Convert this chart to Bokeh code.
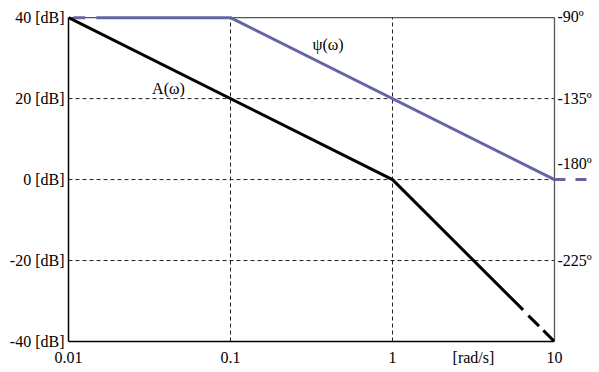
from bokeh.plotting import figure
from bokeh.models import Range1d, FixedTicker
from bokeh.core.properties import value
from bokeh.embed import file_html
from bokeh.resources import INLINE

# Amplitude A(w) [dB]
amp_w = [0.01, 1.0, 6.4]
amp_db = [40, 0, -32.2]
amp_dash_w = [6.9, 10.0]
amp_dash_db = [-33.6, -40]

# Phase psi(w) [deg]
phase_w = [0.0149, 0.1, 10.0]
phase_deg = [-90, -90, -180]
phase_dash_left_w = [0.0107, 0.0149]
phase_dash_left_deg = [-90, -90]
phase_dash_right_w = [10.0, 16.9]
phase_dash_right_deg = [-180, -180]

x_ticks = [0.01, 0.1, 1, 3.1623, 10]
x_labels = ["0.01", "0.1", "1", "[rad/s]", "10"]
db_ticks = [40, 20, 0, -20, -40]
db_labels = ["40 [dB]", "20 [dB]", "0 [dB]", "-20 [dB]", "-40 [dB]"]
deg_label_pos = [-89.5, -135, -171, -225]
deg_labels = ["-90º", "-135º", "-180º", "-225º"]
grid_w = [0.1, 1]
grid_db = [20, 0, -20]

FONT = "Liberation Serif"
PURPLE = "#6565a5"
W_MIN, W_MAX = 0.01, 10.0
DB_MIN, DB_MAX = -40, 40
DB_TOP = 43.0  # headroom so the top labels are not clipped

p = figure(width=598, height=372, x_axis_type="log",
           x_range=Range1d(0.01, 18.17), y_range=Range1d(DB_MIN, DB_TOP),
           output_backend="svg", toolbar_location=None,
           min_border_left=68, min_border_right=2, min_border_top=5, min_border_bottom=31)
# degrees: 2.25 deg per dB, -90 deg <-> 40 dB
p.extra_y_ranges = {"deg": Range1d(-270, -90 + (DB_TOP - DB_MAX) * 2.25)}
p.outline_line_color = None
p.background_fill_color = "white"
p.border_fill_color = "white"
p.xgrid.visible = False
p.ygrid.visible = False

# bottom axis
xa = p.xaxis[0]
xa.ticker = FixedTicker(ticks=x_ticks, minor_ticks=[])
xa.bounds = (W_MIN, W_MAX)
xa.major_label_overrides = {t: l for t, l in zip(x_ticks, x_labels)}
xa.axis_line_color = "black"
xa.axis_line_width = 1.5
xa.major_tick_line_color = None
xa.major_tick_out = 0
xa.major_tick_in = 0
xa.minor_tick_line_color = None
xa.minor_tick_out = 0
xa.major_label_text_font = FONT
xa.major_label_text_font_size = "16px"
xa.major_label_text_color = "black"
xa.major_label_standoff = 7

ya = p.yaxis[0]
ya.ticker = FixedTicker(ticks=db_ticks, minor_ticks=[])
ya.bounds = (DB_MIN, DB_MAX)
ya.major_label_overrides = {t: l for t, l in zip(db_ticks, db_labels)}
ya.axis_line_color = "black"
ya.axis_line_width = 1.5
ya.major_tick_line_color = None
ya.major_tick_out = 0
ya.major_tick_in = 0
ya.minor_tick_line_color = None
ya.minor_tick_out = 0
ya.major_label_text_font = FONT
ya.major_label_text_font_size = "16px"
ya.major_label_text_color = "black"
ya.major_label_standoff = 4

# grid (limited to the box)
p.segment(x0=[W_MIN] * len(grid_db), x1=[W_MAX] * len(grid_db), y0=grid_db, y1=grid_db,
          line_color="#222222", line_dash="4 3", line_width=1)
p.segment(x0=grid_w, x1=grid_w, y0=[DB_MIN] * len(grid_w), y1=[DB_MAX] * len(grid_w),
          line_color="#222222", line_dash="4 3", line_width=1)

# frame top/right borders
p.line([W_MIN, W_MAX, W_MAX], [DB_MAX, DB_MAX, DB_MIN], line_color="#555555", line_width=1.3)

# phase line
p.line(phase_w, phase_deg, y_range_name="deg", line_color=PURPLE, line_width=3)
p.line(phase_dash_left_w, phase_dash_left_deg, y_range_name="deg", line_color=PURPLE,
       line_width=3, line_dash="12 11")
p.line(phase_dash_right_w, phase_dash_right_deg, y_range_name="deg", line_color=PURPLE,
       line_width=3, line_dash="11 10")

# amplitude line
p.line(amp_w, amp_db, line_color="black", line_width=3)
p.line(amp_dash_w, amp_dash_db, line_color="black", line_width=3, line_dash="15 6")

# right-hand phase labels
p.text(x=[W_MAX] * len(deg_labels), y=deg_label_pos, text=deg_labels, y_range_name="deg",
       x_offset=3, text_font=value(FONT), text_font_size="16px",
       text_align="left", text_baseline="middle", text_color="black")

p.text(x=[0.0414], y=[22.5], text=["A(ω)"], text_font=value(FONT), text_font_size="16px",
       text_align="center", text_baseline="middle", text_color="black")
p.text(x=[0.4], y=[33.3], text=["ψ(ω)"], text_font=value(FONT), text_font_size="16px",
       text_align="center", text_baseline="middle", text_color="black")

open("out.html", "w").write(file_html(p, INLINE))
